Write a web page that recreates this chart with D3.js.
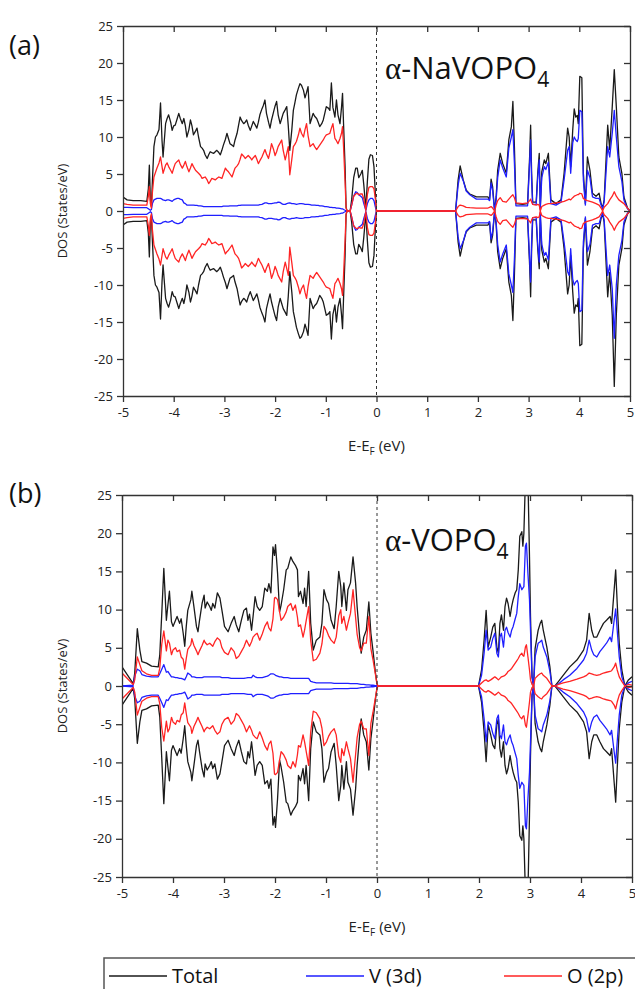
<!DOCTYPE html>
<html>
<head>
<meta charset="utf-8">
<script src="https://cdn.jsdelivr.net/npm/d3@7"></script>
<style>
  body { margin: 0; background: #fff; }
  svg { display: block; }
</style>
</head>
<body>
<svg id="chart" width="635" height="989"></svg>
<script>
// ---- data (spin-up half; spin-down is drawn mirrored) ----
const xTicks = [-5, -4, -3, -2, -1, 0, 1, 2, 3, 4, 5];
const yTicks = [-25, -20, -15, -10, -5, 0, 5, 10, 15, 20, 25];
const seriesNames = ["Total", "V (3d)", "O (2p)"];
const panelLabels = ["(a)", "(b)"];
const compounds = ["NaVOPO", "VOPO"];

// panel (a) alpha-NaVOPO4
const energyA = [
  -5.00,-4.92,-4.80,-4.65,-4.53,-4.50,-4.48,-4.46,-4.44,-4.42,
  -4.39,-4.36,-4.33,-4.29,-4.26,-4.23,-4.21,-4.16,-4.13,-4.10,
  -4.06,-4.03,-4.00,-3.97,-3.93,-3.90,-3.87,-3.83,-3.80,-3.77,
  -3.74,-3.70,-3.67,-3.64,-3.61,-3.57,-3.54,-3.51,-3.47,-3.44,
  -3.41,-3.38,-3.34,-3.31,-3.28,-3.25,-3.21,-3.18,-3.15,-3.11,
  -3.08,-3.05,-3.02,-2.98,-2.95,-2.92,-2.89,-2.85,-2.82,-2.79,
  -2.75,-2.72,-2.69,-2.66,-2.62,-2.59,-2.56,-2.53,-2.49,-2.46,
  -2.43,-2.39,-2.36,-2.33,-2.30,-2.26,-2.23,-2.20,-2.17,-2.13,
  -2.10,-2.07,-2.03,-2.00,-1.97,-1.94,-1.90,-1.87,-1.84,-1.80,
  -1.77,-1.74,-1.71,-1.67,-1.64,-1.61,-1.58,-1.54,-1.51,-1.48,
  -1.44,-1.41,-1.38,-1.35,-1.31,-1.28,-1.25,-1.22,-1.18,-1.15,
  -1.12,-1.08,-1.05,-1.02,-0.99,-0.95,-0.92,-0.89,-0.86,-0.82,
  -0.79,-0.76,-0.72,-0.69,-0.67,-0.65,-0.62,-0.60,-0.58,-0.52,
  -0.49,-0.45,-0.41,-0.38,-0.35,-0.31,-0.28,-0.25,-0.21,-0.18,
  -0.15,-0.12,-0.08,-0.05,-0.02,0.00,1.56,1.61,1.65,1.71,
  1.77,1.84,1.97,2.10,2.20,2.23,2.26,2.29,2.33,2.36,
  2.39,2.44,2.49,2.56,2.61,2.66,2.69,2.72,2.75,2.88,
  2.98,3.02,3.04,3.06,3.08,3.15,3.18,3.21,3.23,3.26,
  3.31,3.34,3.39,3.44,3.54,3.64,3.70,3.77,3.80,3.83,
  3.87,3.90,3.93,3.96,3.98,4.01,4.05,4.08,4.12,4.16,
  4.21,4.26,4.33,4.39,4.43,4.46,4.49,4.56,4.60,4.65,
  4.69,4.73,4.78,4.84,4.88,4.95,5.00
];
const totalA = [
  1.9,1.5,1.4,1.4,1.3,3.0,6.2,1.5,0.6,4.0,
  8.7,10.0,10.3,11.0,14.6,9.5,7.3,11.8,12.5,13.0,
  12.0,10.9,11.5,11.6,12.5,13.2,12.5,11.8,12.5,11.5,
  10.0,11.0,12.3,11.5,10.3,10.8,11.2,10.0,8.7,8.5,
  8.2,7.6,7.1,7.6,8.0,7.9,7.8,8.0,8.2,7.9,
  7.6,8.2,8.9,9.7,10.5,9.8,9.1,8.9,8.7,9.6,
  10.5,11.6,12.7,12.2,11.8,12.0,12.3,11.6,10.9,11.5,
  12.1,11.6,11.2,12.0,13.0,13.8,14.3,15.0,13.2,12.0,
  11.2,12.3,13.4,14.2,14.8,13.0,11.8,12.5,13.2,13.7,
  14.1,11.5,8.2,11.0,13.6,14.6,15.7,16.6,17.2,17.0,
  16.3,15.3,16.0,16.8,11.8,12.5,13.2,12.8,12.5,12.0,
  11.4,11.8,12.3,13.2,14.1,13.9,13.6,17.3,14.0,12.7,
  15.0,13.0,11.8,14.0,15.9,11.8,6.0,0.5,0,0,
  1.5,4.5,5.8,5.8,4.5,5.0,5.5,3.5,0.3,4.0,
  7.0,7.6,7.5,6.0,2.0,0,0,4.2,6.1,4.2,
  2.8,2.3,1.9,1.9,1.9,1.5,4.3,3.3,0,1.9,
  5.5,7.8,6.4,5.1,9.6,11.4,14.8,8.7,1.0,0.9,
  1.0,7.3,11.6,5.1,1.2,1.2,5.1,7.8,0.4,5.3,
  6.9,6.4,7.8,1.5,1.0,1.5,5.1,11.2,10.0,6.0,
  10.9,13.8,12.7,12.9,11.8,18.2,18.0,5.1,1.0,7.3,
  5.5,2.4,2.0,2.4,1.0,0.4,1.5,11.6,8.3,14.1,
  19.1,14.1,7.3,5.1,1.9,0.4,0
];
const vA = [
  0.5,0.5,0.45,0.45,0.45,0.3,0.2,0.1,0.2,1.0,
  1.5,1.6,1.7,1.7,1.7,1.6,1.5,1.4,1.5,1.5,
  1.4,1.3,1.5,1.6,1.7,1.7,1.6,1.5,1.1,1.0,
  0.8,0.8,0.8,0.8,0.8,0.75,0.75,0.7,0.7,0.65,
  0.6,0.6,0.6,0.6,0.6,0.6,0.6,0.6,0.6,0.6,
  0.6,0.6,0.65,0.65,0.65,0.65,0.7,0.7,0.7,0.7,
  0.7,0.75,0.75,0.8,0.8,0.8,0.8,0.8,0.8,0.8,
  0.8,0.8,0.8,0.8,0.85,0.9,1.0,1.1,1.1,1.0,
  1.0,1.0,1.05,1.1,1.1,1.2,1.15,1.0,0.9,0.9,
  1.0,1.05,1.1,1.0,1.0,0.95,0.9,0.95,1.0,1.0,
  0.95,0.9,0.9,0.9,0.85,0.8,0.8,0.8,0.75,0.75,
  0.7,0.7,0.65,0.6,0.6,0.55,0.5,0.5,0.45,0.45,
  0.4,0.4,0.35,0.3,0.3,0.2,0.1,0.05,0,0,
  0.8,2.0,2.6,2.5,2.2,2.0,1.8,1.0,0.1,1.0,
  1.5,1.7,1.7,1.4,0.5,0,0,3.5,5.1,4.1,
  2.7,2.2,1.6,1.6,1.6,1.4,3.8,2.8,0,1.5,
  4.5,6.9,5.8,4.6,8.5,10.0,11.0,6.5,0.7,0.7,
  0.7,6.5,9.6,4.0,0.9,0.9,4.5,6.9,0.2,4.5,
  6.0,5.6,6.6,1.0,0.8,1.2,4.2,8.2,8.7,5.1,
  9.2,10.0,9.6,9.4,9.8,13.6,13.4,4.2,0.8,5.5,
  4.5,1.9,1.7,1.7,0.8,0.3,1.2,8.7,7.3,10.5,
  13.6,10.0,6.0,4.0,1.5,0.3,0
];
const oA = [
  1.0,0.9,0.8,0.8,0.8,2.0,3.3,1.0,0.4,2.5,
  4.6,5.2,5.8,6.5,7.3,6.0,5.1,6.2,6.5,6.0,
  5.5,5.1,5.8,6.4,6.7,6.9,6.3,5.8,6.2,6.7,
  6.0,5.3,5.8,6.4,6.0,5.5,5.3,5.1,4.8,4.4,
  4.5,4.6,4.2,3.7,4.0,4.4,4.3,4.2,4.4,4.6,
  4.5,4.4,5.0,5.8,5.5,5.3,5.0,4.6,5.2,5.8,
  6.1,6.4,7.0,7.7,7.4,7.1,7.3,7.5,7.2,6.9,
  7.2,7.5,7.0,6.4,6.8,7.3,7.8,8.3,7.7,7.1,
  8.0,9.1,8.3,7.5,8.0,8.7,9.2,9.6,8.2,6.9,
  7.8,8.7,4.9,7.0,8.7,9.0,9.4,10.3,11.2,10.5,
  10.0,11.0,11.8,10.2,8.7,8.9,9.1,8.7,8.3,8.6,
  8.9,9.3,9.6,10.0,10.3,10.4,10.5,11.2,11.8,9.8,
  9.5,9.1,9.8,10.5,11.4,8.7,4.0,0.4,0,0,
  0.8,2.0,2.3,2.4,2.2,2.3,2.3,1.6,0.1,2.2,
  3.2,3.3,3.3,3.0,1.5,0,0,0.6,0.8,0.7,
  0.5,0.45,0.4,0.4,0.4,0.5,0.6,0.4,0,0.8,
  1.4,1.8,1.3,1.2,1.6,2.0,2.2,1.8,1.1,1.0,
  1.1,1.4,1.6,1.2,0.9,0.8,0.9,0.8,0,0.6,
  0.8,0.9,1.0,1.0,1.1,1.2,1.3,1.5,1.6,1.5,
  1.8,2.0,2.1,2.2,2.2,2.4,2.3,1.7,1.5,1.4,
  1.3,1.2,1.0,0.8,0.4,0,0.5,1.0,1.5,2.0,
  2.6,2.0,1.5,1.2,1.0,0.4,0
];
// spin-down peak that is deeper than its spin-up partner: [energy, total, V]
const spinDnPeakA = [[4.69, 23.7, 17.2]];

// panel (b) alpha-VOPO4
const energyB = [
  -5.00,-4.78,-4.75,-4.70,-4.65,-4.61,-4.52,-4.42,-4.29,-4.26,
  -4.22,-4.18,-4.13,-4.10,-4.07,-4.03,-4.00,-3.95,-3.92,-3.87,
  -3.84,-3.80,-3.77,-3.74,-3.71,-3.65,-3.63,-3.59,-3.54,-3.51,
  -3.48,-3.43,-3.39,-3.37,-3.33,-3.28,-3.25,-3.22,-3.18,-3.13,
  -3.08,-3.04,-2.99,-2.92,-2.86,-2.80,-2.76,-2.71,-2.66,-2.61,
  -2.56,-2.53,-2.50,-2.46,-2.43,-2.39,-2.35,-2.30,-2.25,-2.20,
  -2.15,-2.12,-2.08,-2.04,-2.01,-1.99,-1.95,-1.91,-1.88,-1.83,
  -1.78,-1.75,-1.69,-1.65,-1.60,-1.56,-1.54,-1.50,-1.45,-1.42,
  -1.39,-1.34,-1.30,-1.25,-1.19,-1.12,-1.08,-1.04,-0.99,-0.95,
  -0.90,-0.84,-0.80,-0.75,-0.71,-0.69,-0.65,-0.60,-0.57,-0.52,
  -0.47,-0.42,-0.39,-0.34,-0.31,-0.26,-0.21,-0.16,-0.12,-0.08,
  -0.03,0.00,0.02,1.99,2.05,2.10,2.14,2.18,2.23,2.27,
  2.31,2.35,2.38,2.41,2.44,2.48,2.51,2.54,2.57,2.61,
  2.64,2.67,2.71,2.74,2.77,2.80,2.84,2.86,2.88,2.91,
  2.93,2.96,2.99,3.01,3.04,3.07,3.10,3.16,3.20,3.23,
  3.26,3.33,3.39,3.43,3.49,3.56,3.65,3.78,3.92,4.05,
  4.11,4.16,4.21,4.25,4.31,4.37,4.44,4.50,4.57,4.60,
  4.65,4.68,4.71,4.75,4.80,4.86,4.93,5.00
];
const totalB = [
  2.5,0.3,1.7,7.5,4.7,3.2,3.0,2.6,2.5,4.0,
  9.5,15.4,8.6,10.6,12.4,8.4,7.8,8.6,9.1,8.2,
  8.8,6.9,5.2,7.8,9.9,11.3,12.4,10.4,7.8,7.1,
  8.6,10.8,11.9,10.2,11.0,10.4,9.9,10.8,10.2,12.2,
  11.5,9.9,7.8,7.1,8.2,9.1,8.0,7.1,8.6,9.9,
  10.2,8.6,9.4,7.3,9.1,11.7,10.4,9.9,10.4,12.8,
  12.4,13.4,12.2,18.2,17.1,18.5,14.8,9.7,10.6,12.6,
  15.2,15.4,16.9,16.3,15.8,15.2,11.7,12.4,10.8,12.8,
  10.4,15.0,8.2,4.7,6.0,6.4,8.2,12.6,11.3,10.8,
  8.6,7.5,10.4,15.0,13.0,10.4,13.5,9.9,12.6,13.5,
  16.9,13.5,10.4,6.4,4.3,6.4,7.3,11.0,6.9,4.7,
  1.7,0.3,0,0,2.1,6.0,9.9,5.1,6.4,7.7,
  8.2,5.1,4.3,8.2,9.3,7.3,10.4,11.5,10.8,9.1,
  10.4,11.3,12.2,12.6,15.2,19.6,20.2,18.3,20.0,27.0,
  30.0,27.0,16.9,9.1,1.2,0,4.9,7.3,8.2,8.6,
  7.3,5.1,2.5,0,0,0.6,1.4,2.5,3.4,4.7,
  6.0,9.5,7.3,6.4,6.4,7.3,8.2,8.6,9.1,8.2,
  12.6,15.2,10.8,5.6,2.1,0,0.8,1.2
];
const vB = [
  0,0.1,1.3,2.2,2.0,1.5,1.3,1.2,1.2,1.6,
  2.2,2.8,1.8,1.9,1.6,1.2,1.2,1.1,1.1,1.0,
  1.0,0.9,0.8,1.2,1.7,1.4,1.2,1.2,1.1,1.1,
  1.1,1.1,1.2,1.2,1.2,1.2,1.2,1.2,1.2,1.2,
  1.2,1.1,1.1,1.1,1.0,1.0,1.0,1.0,1.0,1.0,
  1.05,1.1,1.1,1.1,1.4,1.2,1.1,1.1,1.1,1.2,
  1.3,1.4,1.6,1.6,1.5,1.4,1.3,1.2,1.2,1.1,
  1.1,1.1,1.0,1.0,1.0,1.0,1.0,1.0,1.0,1.0,
  1.0,1.0,0.6,0.5,0.4,0.4,0.4,0.4,0.4,0.4,
  0.4,0.35,0.35,0.35,0.35,0.35,0.35,0.35,0.35,0.3,
  0.3,0.3,0.3,0.25,0.2,0.2,0.15,0.15,0.1,0.1,
  0.05,0,0,0,1.4,4.3,7.3,4.7,5.1,6.2,
  6.9,4.3,3.8,6.4,6.9,5.1,7.3,7.7,7.0,6.4,
  7.3,7.8,8.8,9.5,11.7,13.4,12.6,12.8,13.0,18.3,
  18.7,14.7,11.3,7.3,1.2,0,3.8,5.6,5.8,6.0,
  5.1,3.8,1.9,0,0,0.3,0.8,1.4,2.3,3.4,
  4.3,6.0,4.7,4.1,3.8,4.5,5.1,5.6,6.4,5.8,
  8.6,10.1,7.3,3.8,1.2,0,0.4,0.6
];
const oB = [
  1.7,0.2,0.8,3.8,2.8,2.0,1.6,1.4,1.4,2.3,
  5.5,7.2,4.6,6.0,5.6,4.1,4.7,5.0,4.5,4.7,
  3.8,3.5,2.2,3.6,4.8,5.4,6.2,5.3,4.6,4.1,
  4.6,5.3,6.0,5.7,5.4,5.6,5.4,5.2,5.8,6.3,
  6.0,5.0,4.4,4.1,5.0,4.5,3.6,3.9,4.5,5.1,
  6.0,5.6,5.2,5.8,6.4,6.7,6.9,6.0,6.8,7.8,
  8.4,7.6,7.2,8.8,11.5,11.6,11.3,9.7,8.6,9.0,
  9.7,10.4,10.8,9.9,10.6,9.0,7.8,8.0,6.4,7.3,
  8.5,10.4,6.0,3.3,3.5,4.3,5.5,7.8,7.3,6.6,
  6.0,5.6,6.4,9.2,10.0,8.2,9.1,7.3,8.2,9.5,
  12.6,9.0,6.8,5.0,4.6,5.6,5.6,9.1,4.9,3.5,
  1.5,0.2,0,0,0.4,0.7,0.8,0.6,0.8,1.0,
  1.2,1.0,0.8,1.0,1.2,1.3,1.4,1.6,1.9,2.1,
  2.3,2.6,3.0,3.3,3.6,4.0,4.3,4.0,3.9,5.1,
  5.4,3.8,2.1,0.8,0.2,0,1.0,1.4,1.6,1.7,
  1.4,1.0,0.4,0,0,0.2,0.4,0.6,0.9,1.2,
  1.4,1.7,1.6,1.5,1.4,1.5,1.7,1.8,1.9,2.0,
  2.5,3.0,2.1,1.2,0.6,0,0.2,0.1
];
const spinDnPeakB = [];

// ---- drawing ----
const FONT = "'Open Sans', 'DejaVu Sans', sans-serif";
const colors = ["#1a1a1a", "#1f1fff", "#ff2424"];

const svg = d3.select("#chart");

const panels = [
  { energy: energyA, series: [totalA, vA, oA], dnPeaks: spinDnPeakA,
    top: 26, bottom: 396, left: 123, right: 630, labelY: 55, nameY: 79 },
  { energy: energyB, series: [totalB, vB, oB], dnPeaks: spinDnPeakB,
    top: 495, bottom: 877, left: 122, right: 632, labelY: 503, nameY: 551 }
];

panels.forEach((p, i) => {
  const x = d3.scaleLinear().domain([-5, 5]).range([p.left, p.right]);
  const y = d3.scaleLinear().domain([-25, 25]).range([p.bottom, p.top]);
  const g = svg.append("g");

  g.append("clipPath").attr("id", "clip" + i)
    .append("rect")
    .attr("x", p.left).attr("y", p.top)
    .attr("width", p.right - p.left).attr("height", p.bottom - p.top);

  const plot = g.append("g").attr("clip-path", "url(#clip" + i + ")");

  // spin-down values: mirrored, except the listed deeper peaks
  const downOf = (vals, k) => vals.map((d, j) => {
    const pk = p.dnPeaks.find(q => q[0] === p.energy[j]);
    return pk && k < 2 ? pk[k + 1] : d;
  });

  p.series.forEach((vals, k) => {
    const up = d3.line().x((d, j) => x(p.energy[j])).y(d => y(d));
    const dn = d3.line().x((d, j) => x(p.energy[j])).y(d => y(-d));
    plot.append("path").datum(vals).attr("d", up)
      .attr("fill", "none").attr("stroke", colors[k]).attr("stroke-width", 1.3)
      .attr("stroke-linejoin", "round");
    plot.append("path").datum(downOf(vals, k)).attr("d", dn)
      .attr("fill", "none").attr("stroke", colors[k]).attr("stroke-width", 1.3)
      .attr("stroke-linejoin", "round");
  });

  // Fermi level
  g.append("line")
    .attr("x1", x(0)).attr("x2", x(0)).attr("y1", p.top).attr("y2", p.bottom)
    .attr("stroke", "#333").attr("stroke-width", 1).attr("stroke-dasharray", "3,3");

  // axes
  const styleAxis = sel => {
    sel.selectAll("path, line").attr("stroke", "#333").attr("stroke-width", 1.3);
    sel.selectAll("text").attr("fill", "#222").style("font-family", FONT).style("font-size", "13px");
  };
  g.append("g").attr("transform", `translate(0,${p.bottom})`)
    .call(d3.axisBottom(x).tickValues(xTicks).tickSize(6).tickSizeOuter(0).tickPadding(6)
      .tickFormat(d => String(d)))
    .call(styleAxis);
  g.append("g").attr("transform", `translate(0,${p.top})`)
    .call(d3.axisTop(x).tickValues(xTicks).tickSize(-6).tickSizeOuter(0).tickFormat(""))
    .call(styleAxis);
  g.append("g").attr("transform", `translate(${p.left},0)`)
    .call(d3.axisLeft(y).tickValues(yTicks).tickSize(6).tickSizeOuter(0).tickPadding(4)
      .tickFormat(d => String(d)))
    .call(styleAxis);
  g.append("g").attr("transform", `translate(${p.right},0)`)
    .call(d3.axisRight(y).tickValues(yTicks).tickSize(-6).tickSizeOuter(0).tickFormat(""))
    .call(styleAxis);

  // axis titles
  const xt = g.append("text")
    .attr("x", x(0)).attr("y", p.bottom + 55).attr("text-anchor", "middle")
    .style("font-family", FONT).style("font-size", "15px").attr("fill", "#222");
  xt.append("tspan").text("E-E");
  xt.append("tspan").attr("dy", 4).style("font-size", "10px").text("F");
  xt.append("tspan").attr("dy", -4).text(" (eV)");

  g.append("text")
    .attr("transform", `translate(67,${(p.top + p.bottom) / 2}) rotate(-90)`)
    .attr("text-anchor", "middle")
    .style("font-family", FONT).style("font-size", "13px").attr("fill", "#222")
    .text("DOS (States/eV)");

  // panel letter
  svg.append("text").attr("x", 9).attr("y", p.labelY)
    .style("font-family", FONT).style("font-size", "27px").attr("fill", "#111")
    .text(panelLabels[i]);

  // compound name
  const nm = g.append("text").attr("x", 385).attr("y", p.nameY)
    .style("font-family", FONT).style("font-size", "31px").attr("fill", "#111");
  nm.append("tspan").style("font-family", "'Liberation Serif', 'DejaVu Serif', serif").text("\u03b1");
  nm.append("tspan").text("-" + compounds[i]);
  nm.append("tspan").attr("dy", 8).style("font-size", "21px").text("4");
});

// legend
const legend = svg.append("g");
legend.append("rect")
  .attr("x", 104).attr("y", 958).attr("width", 600).attr("height", 60)
  .attr("fill", "none").attr("stroke", "#555").attr("stroke-width", 1.5);
const legendX = [109, 306, 504];
seriesNames.forEach((name, k) => {
  legend.append("line")
    .attr("x1", legendX[k]).attr("x2", legendX[k] + 58)
    .attr("y1", 976).attr("y2", 976)
    .attr("stroke", colors[k]).attr("stroke-width", 1.5);
  legend.append("text")
    .attr("x", legendX[k] + 63).attr("y", 983)
    .style("font-family", FONT).style("font-size", "20px").attr("fill", "#111")
    .text(name);
});
</script>
</body>
</html>
